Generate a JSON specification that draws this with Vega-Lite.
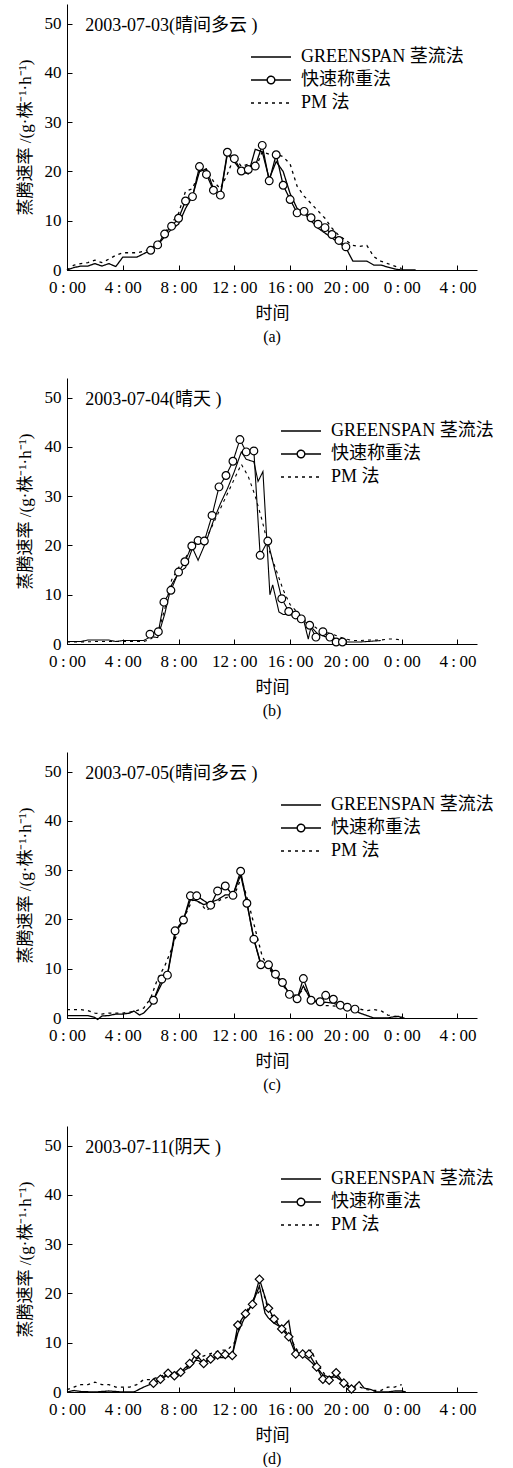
{
"$schema": "https://vega.github.io/schema/vega-lite/v6.json",
"background": "white",
"padding": {"left": 16, "top": 4, "right": 0, "bottom": 0},
"config": {
  "view": {"stroke": null},
  "font": "Liberation Serif, Noto Sans CJK SC",
  "axis": {"labelFont": "Liberation Serif, Noto Sans CJK SC", "titleFont": "Liberation Serif, Noto Sans CJK SC", "labelFontSize": 17, "titleFontSize": 17, "titleFontWeight": "normal", "labelColor": "black", "titleColor": "black", "domainColor": "black", "tickColor": "black", "domainWidth": 1, "tickWidth": 1, "grid": false, "tickSize": -5, "labelFlush": false, "labelOverlap": false},
  "legend": {"labelFont": "Liberation Serif, Noto Sans CJK SC", "labelFontSize": 18, "labelColor": "black", "labelLimit": 400, "symbolSize": 400, "symbolStrokeColor": "black", "symbolStrokeWidth": 1.4, "symbolFillColor": "white", "labelOffset": 19, "rowPadding": 3, "padding": 0, "orient": "none"},
  "title": {"font": "Liberation Serif, Noto Sans CJK SC", "fontSize": 16, "fontWeight": "normal", "color": "black", "orient": "bottom", "offset": 8, "frame": "group", "anchor": "middle"}
},
"data": {"values": [
{"p":"a","s":"GREENSPAN 茎流法","t":0,"v":0},{"p":"a","s":"GREENSPAN 茎流法","t":0.5,"v":0.5},{"p":"a","s":"GREENSPAN 茎流法","t":1,"v":0.8},{"p":"a","s":"GREENSPAN 茎流法","t":1.5,"v":0.8},{"p":"a","s":"GREENSPAN 茎流法","t":2,"v":1.3},{"p":"a","s":"GREENSPAN 茎流法","t":2.5,"v":0.8},{"p":"a","s":"GREENSPAN 茎流法","t":3,"v":1.3},{"p":"a","s":"GREENSPAN 茎流法","t":3.5,"v":0.7},{"p":"a","s":"GREENSPAN 茎流法","t":4,"v":2.6},{"p":"a","s":"GREENSPAN 茎流法","t":4.5,"v":2.6},{"p":"a","s":"GREENSPAN 茎流法","t":5,"v":2.6},{"p":"a","s":"GREENSPAN 茎流法","t":5.5,"v":3.3},{"p":"a","s":"GREENSPAN 茎流法","t":6,"v":4.0},{"p":"a","s":"GREENSPAN 茎流法","t":6.5,"v":5.0},{"p":"a","s":"GREENSPAN 茎流法","t":7,"v":6.8},{"p":"a","s":"GREENSPAN 茎流法","t":7.5,"v":8.3},{"p":"a","s":"GREENSPAN 茎流法","t":8,"v":9.3},{"p":"a","s":"GREENSPAN 茎流法","t":8.5,"v":12.5},{"p":"a","s":"GREENSPAN 茎流法","t":9,"v":15.0},{"p":"a","s":"GREENSPAN 茎流法","t":9.5,"v":20.0},{"p":"a","s":"GREENSPAN 茎流法","t":10,"v":20.5},{"p":"a","s":"GREENSPAN 茎流法","t":10.5,"v":16.5},{"p":"a","s":"GREENSPAN 茎流法","t":11,"v":15.0},{"p":"a","s":"GREENSPAN 茎流法","t":11.5,"v":23.5},{"p":"a","s":"GREENSPAN 茎流法","t":12,"v":22.0},{"p":"a","s":"GREENSPAN 茎流法","t":12.5,"v":20.0},{"p":"a","s":"GREENSPAN 茎流法","t":13,"v":19.5},{"p":"a","s":"GREENSPAN 茎流法","t":13.5,"v":24.5},{"p":"a","s":"GREENSPAN 茎流法","t":14,"v":24.0},{"p":"a","s":"GREENSPAN 茎流法","t":14.5,"v":18.5},{"p":"a","s":"GREENSPAN 茎流法","t":15,"v":22.0},{"p":"a","s":"GREENSPAN 茎流法","t":15.5,"v":20.0},{"p":"a","s":"GREENSPAN 茎流法","t":16,"v":15.5},{"p":"a","s":"GREENSPAN 茎流法","t":16.5,"v":12.5},{"p":"a","s":"GREENSPAN 茎流法","t":17,"v":11.5},{"p":"a","s":"GREENSPAN 茎流法","t":17.5,"v":10.0},{"p":"a","s":"GREENSPAN 茎流法","t":18,"v":8.5},{"p":"a","s":"GREENSPAN 茎流法","t":18.5,"v":7.5},{"p":"a","s":"GREENSPAN 茎流法","t":19,"v":6.5},{"p":"a","s":"GREENSPAN 茎流法","t":19.5,"v":5.5},{"p":"a","s":"GREENSPAN 茎流法","t":20,"v":4.5},{"p":"a","s":"GREENSPAN 茎流法","t":20.5,"v":1.8},{"p":"a","s":"GREENSPAN 茎流法","t":21,"v":1.8},{"p":"a","s":"GREENSPAN 茎流法","t":21.5,"v":1.8},{"p":"a","s":"GREENSPAN 茎流法","t":22,"v":1.0},{"p":"a","s":"GREENSPAN 茎流法","t":22.5,"v":1.0},{"p":"a","s":"GREENSPAN 茎流法","t":23,"v":0.6},{"p":"a","s":"GREENSPAN 茎流法","t":23.5,"v":0.2},{"p":"a","s":"GREENSPAN 茎流法","t":24,"v":0},{"p":"a","s":"GREENSPAN 茎流法","t":24.5,"v":0},{"p":"a","s":"GREENSPAN 茎流法","t":25,"v":0},
{"p":"a","s":"快速称重法","t":6,"v":4.0},{"p":"a","s":"快速称重法","t":6.5,"v":5.1},{"p":"a","s":"快速称重法","t":7,"v":7.3},{"p":"a","s":"快速称重法","t":7.5,"v":8.9},{"p":"a","s":"快速称重法","t":8,"v":10.5},{"p":"a","s":"快速称重法","t":8.5,"v":14.0},{"p":"a","s":"快速称重法","t":9,"v":14.9},{"p":"a","s":"快速称重法","t":9.5,"v":21.0},{"p":"a","s":"快速称重法","t":10,"v":19.4},{"p":"a","s":"快速称重法","t":10.5,"v":16.2},{"p":"a","s":"快速称重法","t":11,"v":15.2},{"p":"a","s":"快速称重法","t":11.5,"v":23.9},{"p":"a","s":"快速称重法","t":12,"v":22.6},{"p":"a","s":"快速称重法","t":12.5,"v":20.1},{"p":"a","s":"快速称重法","t":13,"v":20.4},{"p":"a","s":"快速称重法","t":13.5,"v":21.1},{"p":"a","s":"快速称重法","t":14,"v":25.3},{"p":"a","s":"快速称重法","t":14.5,"v":18.1},{"p":"a","s":"快速称重法","t":15,"v":23.4},{"p":"a","s":"快速称重法","t":15.5,"v":17.2},{"p":"a","s":"快速称重法","t":16,"v":14.3},{"p":"a","s":"快速称重法","t":16.5,"v":11.6},{"p":"a","s":"快速称重法","t":17,"v":11.9},{"p":"a","s":"快速称重法","t":17.5,"v":10.6},{"p":"a","s":"快速称重法","t":18,"v":9.3},{"p":"a","s":"快速称重法","t":18.5,"v":8.6},{"p":"a","s":"快速称重法","t":19,"v":7.2},{"p":"a","s":"快速称重法","t":19.5,"v":6.0},{"p":"a","s":"快速称重法","t":20,"v":4.7},
{"p":"a","s":"PM 法","t":0,"v":0},{"p":"a","s":"PM 法","t":0.5,"v":1.0},{"p":"a","s":"PM 法","t":1,"v":1.3},{"p":"a","s":"PM 法","t":1.5,"v":1.5},{"p":"a","s":"PM 法","t":2,"v":2.0},{"p":"a","s":"PM 法","t":2.5,"v":1.5},{"p":"a","s":"PM 法","t":3,"v":2.2},{"p":"a","s":"PM 法","t":3.5,"v":3.0},{"p":"a","s":"PM 法","t":4,"v":3.5},{"p":"a","s":"PM 法","t":4.5,"v":3.5},{"p":"a","s":"PM 法","t":5,"v":3.5},{"p":"a","s":"PM 法","t":5.5,"v":3.8},{"p":"a","s":"PM 法","t":6,"v":4.3},{"p":"a","s":"PM 法","t":6.5,"v":5.5},{"p":"a","s":"PM 法","t":7,"v":7.5},{"p":"a","s":"PM 法","t":7.5,"v":9.5},{"p":"a","s":"PM 法","t":8,"v":11.5},{"p":"a","s":"PM 法","t":8.5,"v":16.0},{"p":"a","s":"PM 法","t":9,"v":16.5},{"p":"a","s":"PM 法","t":9.5,"v":20.0},{"p":"a","s":"PM 法","t":10,"v":20.5},{"p":"a","s":"PM 法","t":10.5,"v":18.0},{"p":"a","s":"PM 法","t":11,"v":16.5},{"p":"a","s":"PM 法","t":11.5,"v":19.5},{"p":"a","s":"PM 法","t":12,"v":23.0},{"p":"a","s":"PM 法","t":12.5,"v":21.0},{"p":"a","s":"PM 法","t":13,"v":21.5},{"p":"a","s":"PM 法","t":13.5,"v":20.5},{"p":"a","s":"PM 法","t":14,"v":24.0},{"p":"a","s":"PM 法","t":14.5,"v":23.5},{"p":"a","s":"PM 法","t":15,"v":23.5},{"p":"a","s":"PM 法","t":15.5,"v":23.0},{"p":"a","s":"PM 法","t":16,"v":21.5},{"p":"a","s":"PM 法","t":16.5,"v":17.0},{"p":"a","s":"PM 法","t":17,"v":15.0},{"p":"a","s":"PM 法","t":17.5,"v":13.5},{"p":"a","s":"PM 法","t":18,"v":12.0},{"p":"a","s":"PM 法","t":18.5,"v":10.5},{"p":"a","s":"PM 法","t":19,"v":8.5},{"p":"a","s":"PM 法","t":19.5,"v":7.0},{"p":"a","s":"PM 法","t":20,"v":6.0},{"p":"a","s":"PM 法","t":20.5,"v":5.0},{"p":"a","s":"PM 法","t":21,"v":4.8},{"p":"a","s":"PM 法","t":21.5,"v":5.0},{"p":"a","s":"PM 法","t":22,"v":2.7},{"p":"a","s":"PM 法","t":22.5,"v":1.8},{"p":"a","s":"PM 法","t":23,"v":1.3},{"p":"a","s":"PM 法","t":23.5,"v":0.8},{"p":"a","s":"PM 法","t":24,"v":0.3},
{"p":"b","s":"GREENSPAN 茎流法","t":0,"v":0.5},{"p":"b","s":"GREENSPAN 茎流法","t":1,"v":0.5},{"p":"b","s":"GREENSPAN 茎流法","t":1.5,"v":0.8},{"p":"b","s":"GREENSPAN 茎流法","t":2,"v":0.8},{"p":"b","s":"GREENSPAN 茎流法","t":3,"v":0.8},{"p":"b","s":"GREENSPAN 茎流法","t":3.5,"v":0.5},{"p":"b","s":"GREENSPAN 茎流法","t":4,"v":0.7},{"p":"b","s":"GREENSPAN 茎流法","t":5,"v":0.7},{"p":"b","s":"GREENSPAN 茎流法","t":5.5,"v":0.7},{"p":"b","s":"GREENSPAN 茎流法","t":6,"v":1.5},{"p":"b","s":"GREENSPAN 茎流法","t":6.5,"v":1.3},{"p":"b","s":"GREENSPAN 茎流法","t":7,"v":6.0},{"p":"b","s":"GREENSPAN 茎流法","t":7.5,"v":12.0},{"p":"b","s":"GREENSPAN 茎流法","t":8,"v":14.5},{"p":"b","s":"GREENSPAN 茎流法","t":8.5,"v":15.5},{"p":"b","s":"GREENSPAN 茎流法","t":9,"v":19.5},{"p":"b","s":"GREENSPAN 茎流法","t":9.4,"v":17.0},{"p":"b","s":"GREENSPAN 茎流法","t":10,"v":21.0},{"p":"b","s":"GREENSPAN 茎流法","t":10.5,"v":25.0},{"p":"b","s":"GREENSPAN 茎流法","t":11,"v":28.5},{"p":"b","s":"GREENSPAN 茎流法","t":11.5,"v":31.5},{"p":"b","s":"GREENSPAN 茎流法","t":12,"v":35.0},{"p":"b","s":"GREENSPAN 茎流法","t":12.5,"v":39.0},{"p":"b","s":"GREENSPAN 茎流法","t":12.85,"v":37.5},{"p":"b","s":"GREENSPAN 茎流法","t":13.4,"v":37.0},{"p":"b","s":"GREENSPAN 茎流法","t":13.7,"v":33.0},{"p":"b","s":"GREENSPAN 茎流法","t":14.05,"v":35.0},{"p":"b","s":"GREENSPAN 茎流法","t":14.55,"v":10.0},{"p":"b","s":"GREENSPAN 茎流法","t":14.75,"v":12.0},{"p":"b","s":"GREENSPAN 茎流法","t":15.2,"v":6.5},{"p":"b","s":"GREENSPAN 茎流法","t":15.5,"v":6.0},{"p":"b","s":"GREENSPAN 茎流法","t":16,"v":6.0},{"p":"b","s":"GREENSPAN 茎流法","t":16.5,"v":5.5},{"p":"b","s":"GREENSPAN 茎流法","t":17,"v":4.5},{"p":"b","s":"GREENSPAN 茎流法","t":17.3,"v":1.0},{"p":"b","s":"GREENSPAN 茎流法","t":17.5,"v":3.5},{"p":"b","s":"GREENSPAN 茎流法","t":18,"v":2.0},{"p":"b","s":"GREENSPAN 茎流法","t":18.5,"v":1.5},{"p":"b","s":"GREENSPAN 茎流法","t":19,"v":1.5},{"p":"b","s":"GREENSPAN 茎流法","t":19.5,"v":0.5},{"p":"b","s":"GREENSPAN 茎流法","t":20,"v":0.4},{"p":"b","s":"GREENSPAN 茎流法","t":20.5,"v":0.4},{"p":"b","s":"GREENSPAN 茎流法","t":21,"v":0.4},{"p":"b","s":"GREENSPAN 茎流法","t":21.5,"v":0.5},{"p":"b","s":"GREENSPAN 茎流法","t":22,"v":0.6},{"p":"b","s":"GREENSPAN 茎流法","t":22.5,"v":0.7},
{"p":"b","s":"快速称重法","t":5.95,"v":2.0},{"p":"b","s":"快速称重法","t":6.55,"v":2.5},{"p":"b","s":"快速称重法","t":6.95,"v":8.5},{"p":"b","s":"快速称重法","t":7.45,"v":10.9},{"p":"b","s":"快速称重法","t":8.0,"v":14.6},{"p":"b","s":"快速称重法","t":8.45,"v":16.7},{"p":"b","s":"快速称重法","t":8.95,"v":19.9},{"p":"b","s":"快速称重法","t":9.4,"v":21.0},{"p":"b","s":"快速称重法","t":9.85,"v":20.9},{"p":"b","s":"快速称重法","t":10.4,"v":26.1},{"p":"b","s":"快速称重法","t":10.9,"v":31.9},{"p":"b","s":"快速称重法","t":11.4,"v":34.2},{"p":"b","s":"快速称重法","t":11.9,"v":37.1},{"p":"b","s":"快速称重法","t":12.4,"v":41.5},{"p":"b","s":"快速称重法","t":12.85,"v":39.0},{"p":"b","s":"快速称重法","t":13.4,"v":39.2},{"p":"b","s":"快速称重法","t":13.85,"v":18.0},{"p":"b","s":"快速称重法","t":14.4,"v":20.9},{"p":"b","s":"快速称重法","t":15.4,"v":9.2},{"p":"b","s":"快速称重法","t":15.9,"v":6.6},{"p":"b","s":"快速称重法","t":16.4,"v":5.9},{"p":"b","s":"快速称重法","t":16.8,"v":5.1},{"p":"b","s":"快速称重法","t":17.4,"v":3.8},{"p":"b","s":"快速称重法","t":17.85,"v":1.4},{"p":"b","s":"快速称重法","t":18.35,"v":2.5},{"p":"b","s":"快速称重法","t":18.85,"v":1.4},{"p":"b","s":"快速称重法","t":19.3,"v":0.4},{"p":"b","s":"快速称重法","t":19.75,"v":0.4},
{"p":"b","s":"PM 法","t":0,"v":0.4},{"p":"b","s":"PM 法","t":1,"v":0.4},{"p":"b","s":"PM 法","t":2,"v":0.5},{"p":"b","s":"PM 法","t":3,"v":0.5},{"p":"b","s":"PM 法","t":4,"v":0.5},{"p":"b","s":"PM 法","t":5,"v":0.5},{"p":"b","s":"PM 法","t":5.5,"v":0.5},{"p":"b","s":"PM 法","t":6,"v":1.0},{"p":"b","s":"PM 法","t":6.5,"v":2.0},{"p":"b","s":"PM 法","t":7,"v":7.0},{"p":"b","s":"PM 法","t":7.5,"v":13.0},{"p":"b","s":"PM 法","t":8,"v":15.5},{"p":"b","s":"PM 法","t":8.5,"v":17.5},{"p":"b","s":"PM 法","t":9,"v":20.0},{"p":"b","s":"PM 法","t":9.5,"v":20.5},{"p":"b","s":"PM 法","t":10,"v":21.5},{"p":"b","s":"PM 法","t":10.5,"v":24.5},{"p":"b","s":"PM 法","t":11,"v":27.5},{"p":"b","s":"PM 法","t":11.5,"v":30.5},{"p":"b","s":"PM 法","t":12,"v":33.5},{"p":"b","s":"PM 法","t":12.5,"v":36.5},{"p":"b","s":"PM 法","t":13,"v":34.0},{"p":"b","s":"PM 法","t":13.5,"v":30.0},{"p":"b","s":"PM 法","t":14,"v":25.0},{"p":"b","s":"PM 法","t":14.5,"v":19.0},{"p":"b","s":"PM 法","t":15,"v":15.0},{"p":"b","s":"PM 法","t":15.5,"v":11.0},{"p":"b","s":"PM 法","t":16,"v":8.0},{"p":"b","s":"PM 法","t":16.5,"v":6.5},{"p":"b","s":"PM 法","t":17,"v":5.0},{"p":"b","s":"PM 法","t":17.5,"v":4.0},{"p":"b","s":"PM 法","t":18,"v":3.0},{"p":"b","s":"PM 法","t":18.5,"v":2.5},{"p":"b","s":"PM 法","t":19,"v":2.0},{"p":"b","s":"PM 法","t":19.5,"v":1.5},{"p":"b","s":"PM 法","t":20,"v":1.0},{"p":"b","s":"PM 法","t":20.5,"v":0.7},{"p":"b","s":"PM 法","t":21,"v":0.7},{"p":"b","s":"PM 法","t":21.5,"v":0.8},{"p":"b","s":"PM 法","t":22,"v":0.8},{"p":"b","s":"PM 法","t":22.5,"v":0.8},{"p":"b","s":"PM 法","t":23,"v":1.0},{"p":"b","s":"PM 法","t":23.5,"v":1.0},{"p":"b","s":"PM 法","t":24,"v":0.8},
{"p":"c","s":"GREENSPAN 茎流法","t":0,"v":0.5},{"p":"c","s":"GREENSPAN 茎流法","t":1,"v":0.5},{"p":"c","s":"GREENSPAN 茎流法","t":1.5,"v":0.5},{"p":"c","s":"GREENSPAN 茎流法","t":2,"v":0.1},{"p":"c","s":"GREENSPAN 茎流法","t":2.2,"v":-0.3},{"p":"c","s":"GREENSPAN 茎流法","t":2.5,"v":0.4},{"p":"c","s":"GREENSPAN 茎流法","t":3,"v":0.5},{"p":"c","s":"GREENSPAN 茎流法","t":3.5,"v":0.8},{"p":"c","s":"GREENSPAN 茎流法","t":4,"v":0.8},{"p":"c","s":"GREENSPAN 茎流法","t":4.5,"v":1.0},{"p":"c","s":"GREENSPAN 茎流法","t":4.8,"v":1.4},{"p":"c","s":"GREENSPAN 茎流法","t":5.2,"v":0.6},{"p":"c","s":"GREENSPAN 茎流法","t":5.5,"v":1.0},{"p":"c","s":"GREENSPAN 茎流法","t":6,"v":2.5},{"p":"c","s":"GREENSPAN 茎流法","t":6.2,"v":3.6},{"p":"c","s":"GREENSPAN 茎流法","t":6.8,"v":7.0},{"p":"c","s":"GREENSPAN 茎流法","t":7.2,"v":8.7},{"p":"c","s":"GREENSPAN 茎流法","t":7.75,"v":17.0},{"p":"c","s":"GREENSPAN 茎流法","t":8.35,"v":20.0},{"p":"c","s":"GREENSPAN 茎流法","t":8.85,"v":24.0},{"p":"c","s":"GREENSPAN 茎流法","t":9.3,"v":23.8},{"p":"c","s":"GREENSPAN 茎流法","t":9.8,"v":23.0},{"p":"c","s":"GREENSPAN 茎流法","t":10.3,"v":23.5},{"p":"c","s":"GREENSPAN 茎流法","t":10.8,"v":24.0},{"p":"c","s":"GREENSPAN 茎流法","t":11.35,"v":25.0},{"p":"c","s":"GREENSPAN 茎流法","t":11.9,"v":25.0},{"p":"c","s":"GREENSPAN 茎流法","t":12.45,"v":29.0},{"p":"c","s":"GREENSPAN 茎流法","t":12.9,"v":23.5},{"p":"c","s":"GREENSPAN 茎流法","t":13.4,"v":16.0},{"p":"c","s":"GREENSPAN 茎流法","t":13.9,"v":11.0},{"p":"c","s":"GREENSPAN 茎流法","t":14.45,"v":10.5},{"p":"c","s":"GREENSPAN 茎流法","t":14.95,"v":8.5},{"p":"c","s":"GREENSPAN 茎流法","t":15.45,"v":7.0},{"p":"c","s":"GREENSPAN 茎流法","t":15.95,"v":5.0},{"p":"c","s":"GREENSPAN 茎流法","t":16.5,"v":4.0},{"p":"c","s":"GREENSPAN 茎流法","t":16.95,"v":6.5},{"p":"c","s":"GREENSPAN 茎流法","t":17.5,"v":3.6},{"p":"c","s":"GREENSPAN 茎流法","t":18.15,"v":3.0},{"p":"c","s":"GREENSPAN 茎流法","t":18.55,"v":3.2},{"p":"c","s":"GREENSPAN 茎流法","t":19.1,"v":3.0},{"p":"c","s":"GREENSPAN 茎流法","t":19.6,"v":2.5},{"p":"c","s":"GREENSPAN 茎流法","t":20.1,"v":2.0},{"p":"c","s":"GREENSPAN 茎流法","t":20.65,"v":1.5},{"p":"c","s":"GREENSPAN 茎流法","t":21,"v":1.0},{"p":"c","s":"GREENSPAN 茎流法","t":21.5,"v":0.5},{"p":"c","s":"GREENSPAN 茎流法","t":22,"v":0.0},{"p":"c","s":"GREENSPAN 茎流法","t":22.5,"v":0.0},{"p":"c","s":"GREENSPAN 茎流法","t":23,"v":0.0},{"p":"c","s":"GREENSPAN 茎流法","t":23.5,"v":0.3},{"p":"c","s":"GREENSPAN 茎流法","t":23.8,"v":0.3},{"p":"c","s":"GREENSPAN 茎流法","t":24,"v":0.0},{"p":"c","s":"GREENSPAN 茎流法","t":24.2,"v":0.0},
{"p":"c","s":"快速称重法","t":6.2,"v":3.6},{"p":"c","s":"快速称重法","t":6.8,"v":7.9},{"p":"c","s":"快速称重法","t":7.2,"v":8.7},{"p":"c","s":"快速称重法","t":7.75,"v":17.7},{"p":"c","s":"快速称重法","t":8.35,"v":19.9},{"p":"c","s":"快速称重法","t":8.85,"v":24.8},{"p":"c","s":"快速称重法","t":9.3,"v":24.8},{"p":"c","s":"快速称重法","t":10.3,"v":22.9},{"p":"c","s":"快速称重法","t":10.8,"v":25.8},{"p":"c","s":"快速称重法","t":11.35,"v":26.8},{"p":"c","s":"快速称重法","t":11.9,"v":24.9},{"p":"c","s":"快速称重法","t":12.45,"v":29.8},{"p":"c","s":"快速称重法","t":12.9,"v":23.3},{"p":"c","s":"快速称重法","t":13.4,"v":16.0},{"p":"c","s":"快速称重法","t":13.9,"v":10.8},{"p":"c","s":"快速称重法","t":14.45,"v":10.8},{"p":"c","s":"快速称重法","t":14.95,"v":8.9},{"p":"c","s":"快速称重法","t":15.45,"v":7.2},{"p":"c","s":"快速称重法","t":15.95,"v":4.8},{"p":"c","s":"快速称重法","t":16.5,"v":3.9},{"p":"c","s":"快速称重法","t":16.95,"v":8.0},{"p":"c","s":"快速称重法","t":17.5,"v":3.6},{"p":"c","s":"快速称重法","t":18.15,"v":3.3},{"p":"c","s":"快速称重法","t":18.55,"v":4.6},{"p":"c","s":"快速称重法","t":19.1,"v":3.8},{"p":"c","s":"快速称重法","t":19.6,"v":2.6},{"p":"c","s":"快速称重法","t":20.1,"v":2.2},{"p":"c","s":"快速称重法","t":20.65,"v":1.8},
{"p":"c","s":"PM 法","t":0,"v":1.7},{"p":"c","s":"PM 法","t":0.5,"v":1.7},{"p":"c","s":"PM 法","t":1,"v":1.7},{"p":"c","s":"PM 法","t":1.5,"v":1.5},{"p":"c","s":"PM 法","t":2,"v":1.0},{"p":"c","s":"PM 法","t":2.5,"v":0.8},{"p":"c","s":"PM 法","t":3,"v":1.0},{"p":"c","s":"PM 法","t":3.5,"v":1.0},{"p":"c","s":"PM 法","t":4,"v":1.0},{"p":"c","s":"PM 法","t":4.5,"v":1.2},{"p":"c","s":"PM 法","t":5,"v":1.5},{"p":"c","s":"PM 法","t":5.5,"v":2.0},{"p":"c","s":"PM 法","t":6,"v":4.0},{"p":"c","s":"PM 法","t":6.5,"v":8.0},{"p":"c","s":"PM 法","t":7,"v":10.5},{"p":"c","s":"PM 法","t":7.5,"v":14.0},{"p":"c","s":"PM 法","t":8,"v":18.0},{"p":"c","s":"PM 法","t":8.5,"v":21.0},{"p":"c","s":"PM 法","t":9,"v":24.0},{"p":"c","s":"PM 法","t":9.5,"v":23.5},{"p":"c","s":"PM 法","t":10,"v":21.8},{"p":"c","s":"PM 法","t":10.5,"v":23.0},{"p":"c","s":"PM 法","t":11,"v":24.0},{"p":"c","s":"PM 法","t":11.5,"v":24.5},{"p":"c","s":"PM 法","t":12,"v":25.0},{"p":"c","s":"PM 法","t":12.5,"v":28.5},{"p":"c","s":"PM 法","t":13,"v":23.5},{"p":"c","s":"PM 法","t":13.5,"v":18.0},{"p":"c","s":"PM 法","t":14,"v":12.5},{"p":"c","s":"PM 法","t":14.5,"v":10.0},{"p":"c","s":"PM 法","t":15,"v":8.0},{"p":"c","s":"PM 法","t":15.5,"v":6.5},{"p":"c","s":"PM 法","t":16,"v":5.0},{"p":"c","s":"PM 法","t":16.5,"v":4.5},{"p":"c","s":"PM 法","t":17,"v":6.0},{"p":"c","s":"PM 法","t":17.5,"v":4.0},{"p":"c","s":"PM 法","t":18,"v":3.0},{"p":"c","s":"PM 法","t":18.5,"v":2.5},{"p":"c","s":"PM 法","t":19,"v":2.5},{"p":"c","s":"PM 法","t":19.5,"v":2.3},{"p":"c","s":"PM 法","t":20,"v":2.0},{"p":"c","s":"PM 法","t":20.5,"v":1.8},{"p":"c","s":"PM 法","t":21,"v":1.8},{"p":"c","s":"PM 法","t":21.5,"v":1.5},{"p":"c","s":"PM 法","t":22,"v":1.7},{"p":"c","s":"PM 法","t":22.5,"v":1.5},{"p":"c","s":"PM 法","t":23,"v":0.6},{"p":"c","s":"PM 法","t":23.5,"v":0.3},{"p":"c","s":"PM 法","t":24,"v":0.2},
{"p":"d","s":"GREENSPAN 茎流法","t":0,"v":0.0},{"p":"d","s":"GREENSPAN 茎流法","t":0.5,"v":0.3},{"p":"d","s":"GREENSPAN 茎流法","t":1,"v":0.1},{"p":"d","s":"GREENSPAN 茎流法","t":2,"v":0.0},{"p":"d","s":"GREENSPAN 茎流法","t":3,"v":0.2},{"p":"d","s":"GREENSPAN 茎流法","t":4,"v":0.0},{"p":"d","s":"GREENSPAN 茎流法","t":4.8,"v":0.0},{"p":"d","s":"GREENSPAN 茎流法","t":5.5,"v":1.0},{"p":"d","s":"GREENSPAN 茎流法","t":6.2,"v":1.8},{"p":"d","s":"GREENSPAN 茎流法","t":6.7,"v":2.5},{"p":"d","s":"GREENSPAN 茎流法","t":7.25,"v":3.5},{"p":"d","s":"GREENSPAN 茎流法","t":7.7,"v":3.5},{"p":"d","s":"GREENSPAN 茎流法","t":8.15,"v":4.0},{"p":"d","s":"GREENSPAN 茎流法","t":8.8,"v":5.0},{"p":"d","s":"GREENSPAN 茎流法","t":9.25,"v":6.5},{"p":"d","s":"GREENSPAN 茎流法","t":9.8,"v":6.0},{"p":"d","s":"GREENSPAN 茎流法","t":10.3,"v":6.8},{"p":"d","s":"GREENSPAN 茎流法","t":10.8,"v":7.0},{"p":"d","s":"GREENSPAN 茎流法","t":11.35,"v":7.0},{"p":"d","s":"GREENSPAN 茎流法","t":11.85,"v":7.5},{"p":"d","s":"GREENSPAN 茎流法","t":12.25,"v":12.0},{"p":"d","s":"GREENSPAN 茎流法","t":12.8,"v":15.5},{"p":"d","s":"GREENSPAN 茎流法","t":13.3,"v":18.0},{"p":"d","s":"GREENSPAN 茎流法","t":13.8,"v":21.5},{"p":"d","s":"GREENSPAN 茎流法","t":14.2,"v":16.0},{"p":"d","s":"GREENSPAN 茎流法","t":14.45,"v":15.0},{"p":"d","s":"GREENSPAN 茎流法","t":14.85,"v":14.0},{"p":"d","s":"GREENSPAN 茎流法","t":15.4,"v":13.0},{"p":"d","s":"GREENSPAN 茎流法","t":15.9,"v":14.5},{"p":"d","s":"GREENSPAN 茎流法","t":16.1,"v":11.0},{"p":"d","s":"GREENSPAN 茎流法","t":16.4,"v":8.0},{"p":"d","s":"GREENSPAN 茎流法","t":16.9,"v":7.5},{"p":"d","s":"GREENSPAN 茎流法","t":17.35,"v":6.5},{"p":"d","s":"GREENSPAN 茎流法","t":17.9,"v":5.0},{"p":"d","s":"GREENSPAN 茎流法","t":18.35,"v":3.5},{"p":"d","s":"GREENSPAN 茎流法","t":18.8,"v":3.0},{"p":"d","s":"GREENSPAN 茎流法","t":19.3,"v":3.0},{"p":"d","s":"GREENSPAN 茎流法","t":19.85,"v":2.0},{"p":"d","s":"GREENSPAN 茎流法","t":20.4,"v":0.5},{"p":"d","s":"GREENSPAN 茎流法","t":20.95,"v":2.1},{"p":"d","s":"GREENSPAN 茎流法","t":21.3,"v":0.8},{"p":"d","s":"GREENSPAN 茎流法","t":21.8,"v":0.5},{"p":"d","s":"GREENSPAN 茎流法","t":22.2,"v":0.0},{"p":"d","s":"GREENSPAN 茎流法","t":23,"v":0.0},{"p":"d","s":"GREENSPAN 茎流法","t":23.5,"v":0.2},{"p":"d","s":"GREENSPAN 茎流法","t":24,"v":0.2},{"p":"d","s":"GREENSPAN 茎流法","t":24.3,"v":0.0},
{"p":"d","s":"快速称重法","t":6.2,"v":1.8},{"p":"d","s":"快速称重法","t":6.7,"v":2.6},{"p":"d","s":"快速称重法","t":7.25,"v":3.8},{"p":"d","s":"快速称重法","t":7.7,"v":3.3},{"p":"d","s":"快速称重法","t":8.15,"v":4.0},{"p":"d","s":"快速称重法","t":8.8,"v":5.8},{"p":"d","s":"快速称重法","t":9.25,"v":7.7},{"p":"d","s":"快速称重法","t":9.8,"v":5.8},{"p":"d","s":"快速称重法","t":10.3,"v":6.7},{"p":"d","s":"快速称重法","t":10.8,"v":7.5},{"p":"d","s":"快速称重法","t":11.35,"v":7.6},{"p":"d","s":"快速称重法","t":11.85,"v":7.4},{"p":"d","s":"快速称重法","t":12.25,"v":13.6},{"p":"d","s":"快速称重法","t":12.8,"v":15.9},{"p":"d","s":"快速称重法","t":13.3,"v":17.8},{"p":"d","s":"快速称重法","t":13.8,"v":22.9},{"p":"d","s":"快速称重法","t":14.45,"v":17.0},{"p":"d","s":"快速称重法","t":14.85,"v":14.8},{"p":"d","s":"快速称重法","t":15.4,"v":12.8},{"p":"d","s":"快速称重法","t":15.9,"v":11.2},{"p":"d","s":"快速称重法","t":16.4,"v":7.7},{"p":"d","s":"快速称重法","t":16.9,"v":7.7},{"p":"d","s":"快速称重法","t":17.35,"v":7.7},{"p":"d","s":"快速称重法","t":17.9,"v":5.1},{"p":"d","s":"快速称重法","t":18.35,"v":2.6},{"p":"d","s":"快速称重法","t":18.8,"v":2.4},{"p":"d","s":"快速称重法","t":19.3,"v":3.9},{"p":"d","s":"快速称重法","t":19.85,"v":1.8},{"p":"d","s":"快速称重法","t":20.4,"v":0.6},
{"p":"d","s":"PM 法","t":0,"v":0.5},{"p":"d","s":"PM 法","t":0.5,"v":1.0},{"p":"d","s":"PM 法","t":1,"v":1.5},{"p":"d","s":"PM 法","t":1.5,"v":1.5},{"p":"d","s":"PM 法","t":2,"v":2.0},{"p":"d","s":"PM 法","t":2.5,"v":1.5},{"p":"d","s":"PM 法","t":3,"v":1.5},{"p":"d","s":"PM 法","t":3.5,"v":1.0},{"p":"d","s":"PM 法","t":4,"v":1.0},{"p":"d","s":"PM 法","t":4.5,"v":1.0},{"p":"d","s":"PM 法","t":5,"v":1.5},{"p":"d","s":"PM 法","t":5.5,"v":2.5},{"p":"d","s":"PM 法","t":6,"v":2.5},{"p":"d","s":"PM 法","t":6.5,"v":3.0},{"p":"d","s":"PM 法","t":7,"v":3.5},{"p":"d","s":"PM 法","t":7.5,"v":4.0},{"p":"d","s":"PM 法","t":8,"v":4.0},{"p":"d","s":"PM 法","t":8.5,"v":4.5},{"p":"d","s":"PM 法","t":9,"v":6.5},{"p":"d","s":"PM 法","t":9.5,"v":7.0},{"p":"d","s":"PM 法","t":10,"v":7.5},{"p":"d","s":"PM 法","t":10.5,"v":8.0},{"p":"d","s":"PM 法","t":11,"v":8.5},{"p":"d","s":"PM 法","t":11.5,"v":8.5},{"p":"d","s":"PM 法","t":12,"v":10.0},{"p":"d","s":"PM 法","t":12.5,"v":14.5},{"p":"d","s":"PM 法","t":13,"v":17.0},{"p":"d","s":"PM 法","t":13.5,"v":19.5},{"p":"d","s":"PM 法","t":14,"v":21.0},{"p":"d","s":"PM 法","t":14.5,"v":16.0},{"p":"d","s":"PM 法","t":15,"v":14.5},{"p":"d","s":"PM 法","t":15.5,"v":13.0},{"p":"d","s":"PM 法","t":16,"v":11.0},{"p":"d","s":"PM 法","t":16.5,"v":8.5},{"p":"d","s":"PM 法","t":17,"v":8.0},{"p":"d","s":"PM 法","t":17.5,"v":8.5},{"p":"d","s":"PM 法","t":18,"v":5.5},{"p":"d","s":"PM 法","t":18.5,"v":3.5},{"p":"d","s":"PM 法","t":19,"v":3.0},{"p":"d","s":"PM 法","t":19.5,"v":3.0},{"p":"d","s":"PM 法","t":20,"v":1.5},{"p":"d","s":"PM 法","t":20.5,"v":1.0},{"p":"d","s":"PM 法","t":21,"v":1.0},{"p":"d","s":"PM 法","t":21.5,"v":0.5},{"p":"d","s":"PM 法","t":22,"v":0.3},{"p":"d","s":"PM 法","t":22.5,"v":0.3},{"p":"d","s":"PM 法","t":23,"v":1.0},{"p":"d","s":"PM 法","t":23.5,"v":1.0},{"p":"d","s":"PM 法","t":24,"v":1.5}
]},
"spacing": 33,
"resolve": {"scale": {"strokeDash": "independent"}, "legend": {"strokeDash": "independent"}},
"vconcat": [
{"width": 410, "height": 266, "title": {"text": "(a)"},
 "layer": [
  {"transform": [{"filter": "datum.p === 'a'"}],
   "mark": {"type": "line", "color": "black", "strokeWidth": 1.3},
   "encoding": {
    "x": {"field": "t", "type": "quantitative", "scale": {"domain": [0, 29.4], "nice": false, "zero": false}, "axis": {"title": "时间", "values": [0,4,8,12,16,20,24,28], "labelExpr": "(datum.value % 24) + '\u2009:\u200900'", "labelPadding": 14, "titlePadding": 10}},
    "y": {"field": "v", "type": "quantitative", "scale": {"domain": [0, 54], "nice": false}, "axis": {"title": "蒸腾速率 /(g·株⁻¹·h⁻¹)", "values": [0,10,20,30,40,50], "labelPadding": 11, "titlePadding": 10}},
    "strokeDash": {"field": "s", "type": "nominal", "scale": {"domain": ["GREENSPAN 茎流法", "快速称重法", "PM 法"], "range": [[1,0],[1,0],[3,4]]},
      "legend": {"title": null, "legendX": 193, "legendY": 42, "encode": {"symbols": {"update": {"shape": {"signal": "datum.value === '快速称重法' ? 'M-2,0H-0.38M0.38,0H2M0.38,0A0.38,0.38 0 1 1 -0.38,0A0.38,0.38 0 1 1 0.38,0' : 'M-2,0H2'"}}}}}}
   }},
  {"transform": [{"filter": "datum.p === 'a' && datum.s === '快速称重法'"}],
   "mark": {"type": "point", "shape": "circle", "filled": true, "fill": "white", "stroke": "black", "strokeWidth": 1.2, "size": 60, "opacity": 1},
   "encoding": {"x": {"field": "t", "type": "quantitative"}, "y": {"field": "v", "type": "quantitative"}}},
  {"data": {"values": [{"label": "2003-07-03(晴间多云 )"}]},
   "mark": {"type": "text", "align": "left", "baseline": "middle", "fontSize": 18, "color": "black", "font": "Liberation Serif, Noto Sans CJK SC"},
   "encoding": {"x": {"datum": 1.3}, "y": {"datum": 49.5}, "text": {"field": "label"}}}
 ]},
{"width": 410, "height": 266, "title": {"text": "(b)"},
 "layer": [
  {"transform": [{"filter": "datum.p === 'b'"}],
   "mark": {"type": "line", "color": "black", "strokeWidth": 1.1},
   "encoding": {
    "x": {"field": "t", "type": "quantitative", "scale": {"domain": [0, 29.4], "nice": false, "zero": false}, "axis": {"title": "时间", "values": [0,4,8,12,16,20,24,28], "labelExpr": "(datum.value % 24) + '\u2009:\u200900'", "labelPadding": 14, "titlePadding": 10}},
    "y": {"field": "v", "type": "quantitative", "scale": {"domain": [0, 54], "nice": false}, "axis": {"title": "蒸腾速率 /(g·株⁻¹·h⁻¹)", "values": [0,10,20,30,40,50], "labelPadding": 11, "titlePadding": 10}},
    "strokeDash": {"field": "s", "type": "nominal", "scale": {"domain": ["GREENSPAN 茎流法", "快速称重法", "PM 法"], "range": [[1,0],[1,0],[3,4]]},
      "legend": {"title": null, "legendX": 223, "legendY": 42, "encode": {"symbols": {"update": {"shape": {"signal": "datum.value === '快速称重法' ? 'M-2,0H-0.38M0.38,0H2M0.38,0A0.38,0.38 0 1 1 -0.38,0A0.38,0.38 0 1 1 0.38,0' : 'M-2,0H2'"}}}}}}
   }},
  {"transform": [{"filter": "datum.p === 'b' && datum.s === '快速称重法'"}],
   "mark": {"type": "point", "shape": "circle", "filled": true, "fill": "white", "stroke": "black", "strokeWidth": 1.2, "size": 60, "opacity": 1},
   "encoding": {"x": {"field": "t", "type": "quantitative"}, "y": {"field": "v", "type": "quantitative"}}},
  {"data": {"values": [{"label": "2003-07-04(晴天 )"}]},
   "mark": {"type": "text", "align": "left", "baseline": "middle", "fontSize": 18, "color": "black", "font": "Liberation Serif, Noto Sans CJK SC"},
   "encoding": {"x": {"datum": 1.3}, "y": {"datum": 49.5}, "text": {"field": "label"}}}
 ]},
{"width": 410, "height": 266, "title": {"text": "(c)"},
 "layer": [
  {"transform": [{"filter": "datum.p === 'c'"}],
   "mark": {"type": "line", "color": "black", "strokeWidth": 1.3},
   "encoding": {
    "x": {"field": "t", "type": "quantitative", "scale": {"domain": [0, 29.4], "nice": false, "zero": false}, "axis": {"title": "时间", "values": [0,4,8,12,16,20,24,28], "labelExpr": "(datum.value % 24) + '\u2009:\u200900'", "labelPadding": 14, "titlePadding": 10}},
    "y": {"field": "v", "type": "quantitative", "scale": {"domain": [0, 54], "nice": false}, "axis": {"title": "蒸腾速率 /(g·株⁻¹·h⁻¹)", "values": [0,10,20,30,40,50], "labelPadding": 11, "titlePadding": 10}},
    "strokeDash": {"field": "s", "type": "nominal", "scale": {"domain": ["GREENSPAN 茎流法", "快速称重法", "PM 法"], "range": [[1,0],[1,0],[3,4]]},
      "legend": {"title": null, "legendX": 223, "legendY": 42, "encode": {"symbols": {"update": {"shape": {"signal": "datum.value === '快速称重法' ? 'M-2,0H-0.38M0.38,0H2M0.38,0A0.38,0.38 0 1 1 -0.38,0A0.38,0.38 0 1 1 0.38,0' : 'M-2,0H2'"}}}}}}
   }},
  {"transform": [{"filter": "datum.p === 'c' && datum.s === '快速称重法'"}],
   "mark": {"type": "point", "shape": "circle", "filled": true, "fill": "white", "stroke": "black", "strokeWidth": 1.2, "size": 60, "opacity": 1},
   "encoding": {"x": {"field": "t", "type": "quantitative"}, "y": {"field": "v", "type": "quantitative"}}},
  {"data": {"values": [{"label": "2003-07-05(晴间多云 )"}]},
   "mark": {"type": "text", "align": "left", "baseline": "middle", "fontSize": 18, "color": "black", "font": "Liberation Serif, Noto Sans CJK SC"},
   "encoding": {"x": {"datum": 1.3}, "y": {"datum": 49.5}, "text": {"field": "label"}}}
 ]},
{"width": 410, "height": 266, "title": {"text": "(d)"},
 "layer": [
  {"transform": [{"filter": "datum.p === 'd'"}],
   "mark": {"type": "line", "color": "black", "strokeWidth": 1.3},
   "encoding": {
    "x": {"field": "t", "type": "quantitative", "scale": {"domain": [0, 29.4], "nice": false, "zero": false}, "axis": {"title": "时间", "values": [0,4,8,12,16,20,24,28], "labelExpr": "(datum.value % 24) + '\u2009:\u200900'", "labelPadding": 14, "titlePadding": 10}},
    "y": {"field": "v", "type": "quantitative", "scale": {"domain": [0, 54], "nice": false}, "axis": {"title": "蒸腾速率 /(g·株⁻¹·h⁻¹)", "values": [0,10,20,30,40,50], "labelPadding": 11, "titlePadding": 10}},
    "strokeDash": {"field": "s", "type": "nominal", "scale": {"domain": ["GREENSPAN 茎流法", "快速称重法", "PM 法"], "range": [[1,0],[1,0],[3,4]]},
      "legend": {"title": null, "legendX": 223, "legendY": 42, "encode": {"symbols": {"update": {"shape": {"signal": "datum.value === '快速称重法' ? 'M-2,0H-0.38M0.38,0H2M0.38,0A0.38,0.38 0 1 1 -0.38,0A0.38,0.38 0 1 1 0.38,0' : 'M-2,0H2'"}}}}}}
   }},
  {"transform": [{"filter": "datum.p === 'd' && datum.s === '快速称重法'"}],
   "mark": {"type": "point", "shape": "diamond", "filled": true, "fill": "white", "stroke": "black", "strokeWidth": 1.2, "size": 70, "opacity": 1},
   "encoding": {"x": {"field": "t", "type": "quantitative"}, "y": {"field": "v", "type": "quantitative"}}},
  {"data": {"values": [{"label": "2003-07-11(阴天 )"}]},
   "mark": {"type": "text", "align": "left", "baseline": "middle", "fontSize": 18, "color": "black", "font": "Liberation Serif, Noto Sans CJK SC"},
   "encoding": {"x": {"datum": 1.3}, "y": {"datum": 49.5}, "text": {"field": "label"}}}
 ]}
]
}
